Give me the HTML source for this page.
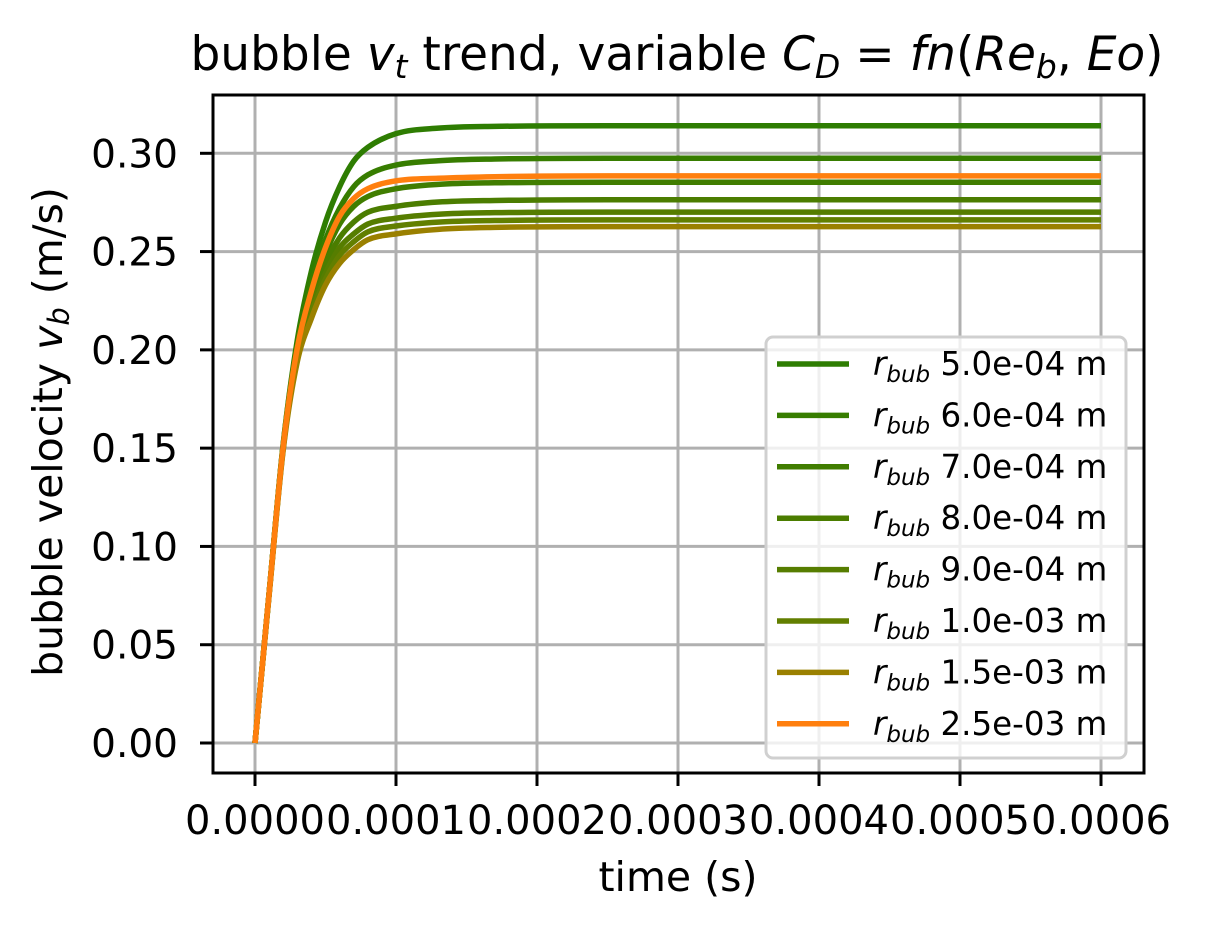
<!DOCTYPE html>
<html><head><meta charset="utf-8"><style>
body{margin:0;background:#fff}
svg text{font-family:"DejaVu Sans","Liberation Sans",sans-serif;fill:#000}
</style></head><body>
<svg id="c" width="1217" height="930"></svg>
<script>
const times=[0,1e-5,2e-5,3e-5,4e-5,5e-5,6e-5,7e-5,8e-5,1e-4,1.3e-4,1.7e-4,2.5e-4,6e-4];
const labels=["5.0e-04","6.0e-04","7.0e-04","8.0e-04","9.0e-04","1.0e-03","1.5e-03","2.5e-03"];
const colors=["#2e7d02","#377d00","#407d00","#4b7d00","#567d00","#627f00","#9a8000","#ff7f0e"];
const s1=[0,.076,.152,.205,.240,.265,.283,.296,.303,.310,.3128,.3137,.314,.314];
const s2=[0,.076,.152,.203,.234,.256,.272,.283,.289,.294,.2962,.2971,.2975,.2975];
const s3=[0,.076,.151,.200,.228,.249,.264,.273,.278,.282,.2842,.2850,.2853,.2853];
const s4=[0,.076,.151,.198,.224,.244,.257,.265,.270,.273,.2752,.2760,.2764,.2764];
const s5=[0,.076,.150,.197,.221,.239,.252,.259,.264,.267,.2690,.2698,.2701,.2701];
const s6=[0,.076,.150,.196,.219,.236,.248,.255,.260,.263,.2650,.2658,.2661,.2661];
const s7=[0,.075,.149,.194,.216,.233,.244,.251,.256,.259,.2613,.2623,.2627,.2627];
const s8=[0,.076,.151,.201,.230,.252,.268,.277,.282,.286,.2873,.2881,.2885,.2885];
const series=[s1,s2,s3,s4,s5,s6,s7,s8];
const xTicks=[0,0.0001,0.0002,0.0003,0.0004,0.0005,0.0006];
const xTickLabels=["0.0000","0.0001","0.0002","0.0003","0.0004","0.0005","0.0006"];
const yTicks=[0,0.05,0.10,0.15,0.20,0.25,0.30];
const yTickLabels=["0.00","0.05","0.10","0.15","0.20","0.25","0.30"];

const svg=document.getElementById('c');const NS='http://www.w3.org/2000/svg';
const L=213,R=1144,T=95,B=773;
const X=t=>255+t*(1101-255)/0.0006;
const Y=v=>743-v*(743-153.3)/0.30;
function el(tag,at,p){const e=document.createElementNS(NS,tag);for(const k in at)e.setAttribute(k,at[k]);(p||svg).appendChild(e);return e;}
xTicks.forEach((t,i)=>{const g=el('line',{x1:X(t),x2:X(t),y1:T,y2:B,stroke:'#b0b0b0','stroke-width':3});


el('line',{x1:X(t),x2:X(t),y1:B,y2:B+13,stroke:'#000','stroke-width':3});
const tx=el('text',{x:X(t),y:834,'text-anchor':'middle','font-size':40});tx.textContent=xTickLabels[i];

});
yTicks.forEach((v,i)=>{const g=el('line',{x1:L,x2:R,y1:Y(v),y2:Y(v),stroke:'#b0b0b0','stroke-width':3});


el('line',{x1:L-13,x2:L,y1:Y(v),y2:Y(v),stroke:'#000','stroke-width':3});
const tx=el('text',{x:178,y:Y(v)+14,'text-anchor':'end','font-size':39});tx.textContent=yTickLabels[i];

});
function pathFor(vals){
  const p=vals.map((v,i)=>[X(times[i]),Y(v)]);const n=p.length;
  const d=[],m=[];for(let i=0;i<n-1;i++)d.push((p[i+1][1]-p[i][1])/(p[i+1][0]-p[i][0]));
  m[0]=d[0];m[n-1]=d[n-2];
  for(let i=1;i<n-1;i++){m[i]=(d[i-1]*d[i]<=0)?0:(d[i-1]+d[i])/2;}
  for(let i=0;i<n-1;i++){if(d[i]===0){m[i]=0;m[i+1]=0;continue;}const a=m[i]/d[i],b=m[i+1]/d[i],s=a*a+b*b;if(s>9){const t=3/Math.sqrt(s);m[i]=t*a*d[i];m[i+1]=t*b*d[i];}}
  let s='M'+p[0][0]+','+p[0][1];
  for(let i=0;i<n-1;i++){const h=(p[i+1][0]-p[i][0])/3;
    s+=`C${p[i][0]+h},${p[i][1]+m[i]*h} ${p[i+1][0]-h},${p[i+1][1]-m[i+1]*h} ${p[i+1][0]},${p[i+1][1]}`;}
  return s;}
[0,1,2,3,4,5,6,7].forEach(i=>{const pth=el('path',{d:pathFor(series[i]),fill:'none',stroke:colors[i],'stroke-width':5.5,'stroke-linejoin':'round'});

});
const fr=el('rect',{x:L,y:T,width:R-L,height:B-T,fill:'none',stroke:'#000','stroke-width':3});


const lg=el('g',{});


el('rect',{x:766,y:337,width:360,height:421,rx:7,fill:'rgba(255,255,255,0.8)',stroke:'#d0d0d0','stroke-width':3},lg);
labels.forEach((lb,i)=>{const y=364+i*51.4;
const ln=el('line',{x1:777,x2:849,y1:y,y2:y,stroke:colors[i],'stroke-width':5.5},lg);


const tx=el('text',{x:873,y:y+11,'font-size':32.5},lg);
tx.innerHTML='<tspan font-style="italic">r</tspan><tspan font-style="italic" font-size="23" dy="7">bub</tspan><tspan dy="-7"> '+lb+' m</tspan>';

});
const ti=el('text',{x:677,y:70,'text-anchor':'middle','font-size':47});
ti.innerHTML='bubble <tspan font-style="italic">v</tspan><tspan font-style="italic" font-size="33" dy="8">t</tspan><tspan dy="-8"> trend, variable </tspan><tspan font-style="italic">C</tspan><tspan font-style="italic" font-size="33" dy="8">D</tspan><tspan dy="-8"> = </tspan><tspan font-style="italic">fn</tspan>(<tspan font-style="italic">Re</tspan><tspan font-style="italic" font-size="33" dy="8">b</tspan><tspan dy="-8">, </tspan><tspan font-style="italic">Eo</tspan>)';


const xl=el('text',{x:678,y:891,'text-anchor':'middle','font-size':41});xl.textContent='time (s)';


const yl=el('text',{x:0,y:0,'text-anchor':'middle','font-size':41,transform:'translate(62,432) rotate(-90)'});
yl.innerHTML='bubble velocity <tspan font-style="italic">v</tspan><tspan font-style="italic" font-size="29" dy="7">b</tspan><tspan dy="-7"> (m/s)</tspan>';


</script>
</body></html>
